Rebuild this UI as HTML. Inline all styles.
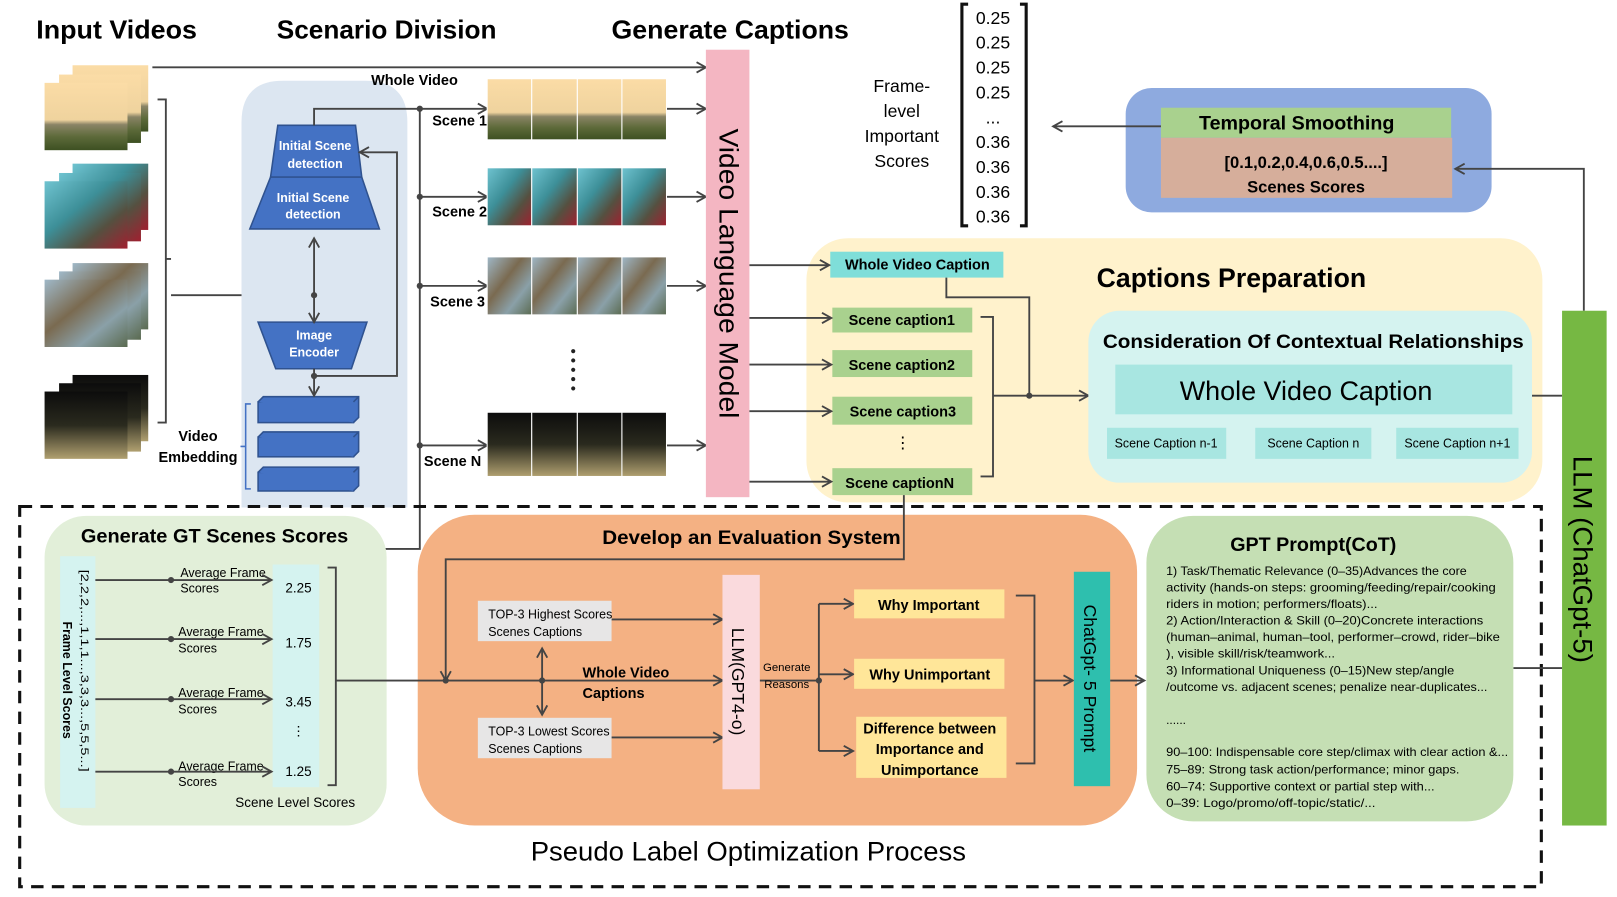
<!DOCTYPE html>
<html><head><meta charset="utf-8"><style>html,body{margin:0;padding:0;background:#fff}svg{display:block}text{font-family:"Liberation Sans",sans-serif}</style></head><body>
<svg width="1617" height="897" viewBox="0 0 1560 866" preserveAspectRatio="none" xmlns="http://www.w3.org/2000/svg">
<defs>
<marker id="a" markerWidth="12" markerHeight="12" refX="10" refY="6" orient="auto" markerUnits="userSpaceOnUse"><path d="M1,1 L10,6 L1,11" fill="none" stroke="#444" stroke-width="1.8"/></marker>
<linearGradient id="g1" x1="0" y1="0" x2="0" y2="1"><stop offset="0" stop-color="#fbdca6"/><stop offset=".55" stop-color="#efd39e"/><stop offset=".62" stop-color="#8a8466"/><stop offset=".8" stop-color="#5d6a3a"/><stop offset="1" stop-color="#3d5022"/></linearGradient>
<linearGradient id="g2" x1="0" y1="0" x2="1" y2="1"><stop offset="0" stop-color="#6fc3d0"/><stop offset=".4" stop-color="#3d8f98"/><stop offset=".7" stop-color="#555040"/><stop offset="1" stop-color="#a02030"/></linearGradient>
<linearGradient id="g3" x1="0" y1="0" x2="1" y2="1"><stop offset="0" stop-color="#9fb8c8"/><stop offset=".4" stop-color="#7a6a50"/><stop offset=".7" stop-color="#8aa0a8"/><stop offset="1" stop-color="#5a6a50"/></linearGradient>
<linearGradient id="g4" x1="0" y1="0" x2="0" y2="1"><stop offset="0" stop-color="#0c0c0c"/><stop offset=".5" stop-color="#2a2a1e"/><stop offset="1" stop-color="#b0a070"/></linearGradient>
</defs>
<g fill="#000" font-weight="bold">
<text x="35" y="37" font-size="25" textLength="155" lengthAdjust="spacingAndGlyphs">Input Videos</text>
<text x="267" y="37" font-size="25" textLength="212" lengthAdjust="spacingAndGlyphs">Scenario Division</text>
<text x="590" y="37" font-size="25" textLength="229" lengthAdjust="spacingAndGlyphs">Generate Captions</text>
</g>
<g>
<rect x="70" y="63" width="73" height="64" fill="url(#g1)"/><rect x="57" y="72" width="79" height="66" fill="url(#g1)"/><rect x="43" y="80" width="80" height="65" fill="url(#g1)"/>
<rect x="70" y="158" width="73" height="64" fill="url(#g2)"/><rect x="57" y="167" width="79" height="66" fill="url(#g2)"/><rect x="43" y="175" width="80" height="65" fill="url(#g2)"/>
<rect x="70" y="254" width="73" height="64" fill="url(#g3)"/><rect x="57" y="262" width="79" height="66" fill="url(#g3)"/><rect x="43" y="270" width="80" height="65" fill="url(#g3)"/>
<rect x="70" y="362" width="73" height="64" fill="url(#g4)"/><rect x="57" y="370" width="79" height="66" fill="url(#g4)"/><rect x="43" y="378" width="80" height="65" fill="url(#g4)"/>
</g>
<g stroke="#444" stroke-width="1.8" fill="none">
<path d="M152,96 H160 V408 H152 M160,250 H165"/>
<path d="M147,65 H681" marker-end="url(#a)"/>
<path d="M165,285 H303"/>
</g>
<path d="M233,490 V118 Q233,78 273,78 H353 Q393,78 393,118 V490 Z" fill="#dce6f1"/>
<text x="358" y="82" font-size="14" font-weight="bold">Whole Video</text>
<g stroke="#2f528f" stroke-width="1.5" fill="#4472c4">
<path d="M268,121 H343 L349,171 H261 Z"/>
<path d="M261,171 H349 L366,221 H241 Z"/>
<path d="M249,311 H354 L339,356 H266 Z"/>
<rect x="249" y="388" width="92" height="20"/><path d="M249,388 L254,383 H346 V403 L341,408 M341,388 L346,383" />
<rect x="249" y="422" width="92" height="19"/><path d="M249,422 L254,417 H346 V436 L341,441 M341,422 L346,417"/>
<rect x="249" y="456" width="92" height="18"/><path d="M249,456 L254,451 H346 V469 L341,474 M341,456 L346,451"/>
</g>
<g fill="#fff" font-size="12" font-weight="bold" text-anchor="middle">
<text x="304" y="145">Initial Scene</text><text x="304" y="162">detection</text>
<text x="302" y="195">Initial Scene</text><text x="302" y="211">detection</text>
<text x="303" y="328">Image</text><text x="303" y="344">Encoder</text>
</g>
<g font-size="14" font-weight="bold" text-anchor="middle"><text x="191" y="426">Video</text><text x="191" y="446">Embedding</text></g>
<path d="M242,390 H237 V472 H242 M232,431 H237" stroke="#4472c4" stroke-width="1.5" fill="none"/>
<g stroke="#444" stroke-width="1.8" fill="none">
<path d="M303,121 V105 H470" marker-end="url(#a)"/>
<path d="M303,285 V230" marker-end="url(#a)"/>
<path d="M303,285 V311" marker-end="url(#a)"/>
<path d="M303,356 V382" marker-end="url(#a)"/>
<path d="M303,363 H383 V147 H347" marker-end="url(#a)"/>
<path d="M405,105 V530 H165 V745"/>
<path d="M405,190 H470" marker-end="url(#a)"/>
<path d="M405,276 H470" marker-end="url(#a)"/>
<path d="M405,430 H470" marker-end="url(#a)"/>
<path d="M643,105 H681" marker-end="url(#a)"/><path d="M643,190 H681" marker-end="url(#a)"/><path d="M643,276 H681" marker-end="url(#a)"/><path d="M643,430 H681" marker-end="url(#a)"/>
</g>
<g fill="#444"><circle cx="405" cy="105" r="3"/><circle cx="405" cy="190" r="3"/><circle cx="405" cy="276" r="3"/><circle cx="405" cy="430" r="3"/><circle cx="303" cy="285" r="3"/><circle cx="303" cy="363" r="3"/></g>
<g font-size="14" font-weight="bold"><text x="417" y="121">Scene 1</text><text x="417" y="209">Scene 2</text><text x="415" y="296">Scene 3</text><text x="409" y="450">Scene N</text></g>
<g stroke="#fff" stroke-width="1">
<rect x="470" y="76" width="43" height="59" fill="url(#g1)"/><rect x="513" y="76" width="44" height="59" fill="url(#g1)"/><rect x="557" y="76" width="43" height="59" fill="url(#g1)"/><rect x="600" y="76" width="43" height="59" fill="url(#g1)"/>
<rect x="470" y="162" width="43" height="56" fill="url(#g2)"/><rect x="513" y="162" width="44" height="56" fill="url(#g2)"/><rect x="557" y="162" width="43" height="56" fill="url(#g2)"/><rect x="600" y="162" width="43" height="56" fill="url(#g2)"/>
<rect x="470" y="248" width="43" height="56" fill="url(#g3)"/><rect x="513" y="248" width="44" height="56" fill="url(#g3)"/><rect x="557" y="248" width="43" height="56" fill="url(#g3)"/><rect x="600" y="248" width="43" height="56" fill="url(#g3)"/>
<rect x="470" y="398" width="43" height="62" fill="url(#g4)"/><rect x="513" y="398" width="44" height="62" fill="url(#g4)"/><rect x="557" y="398" width="43" height="62" fill="url(#g4)"/><rect x="600" y="398" width="43" height="62" fill="url(#g4)"/>
</g>
<g fill="#222"><circle cx="553" cy="339" r="2"/><circle cx="553" cy="348" r="2"/><circle cx="553" cy="357" r="2"/><circle cx="553" cy="366" r="2"/><circle cx="553" cy="375" r="2"/></g>
<rect x="681" y="48" width="42" height="432" fill="#f4b6c2"/>
<text transform="translate(694,264) rotate(90)" font-size="26" text-anchor="middle" textLength="280" lengthAdjust="spacingAndGlyphs">Video Language Model</text>
<g font-size="17" text-anchor="middle"><text x="870" y="89">Frame-</text><text x="870" y="113">level</text><text x="870" y="137">Important</text><text x="870" y="161">Scores</text></g>
<path d="M934,4 H928 V218 H934 M984,4 H990 V218 H984" stroke="#111" stroke-width="3" fill="none"/>
<g font-size="17" text-anchor="middle"><text x="958" y="23">0.25</text><text x="958" y="47">0.25</text><text x="958" y="71">0.25</text><text x="958" y="95">0.25</text><text x="958" y="119">...</text><text x="958" y="143">0.36</text><text x="958" y="167">0.36</text><text x="958" y="191">0.36</text><text x="958" y="215">0.36</text></g>
<rect x="1086" y="85" width="353" height="120" rx="25" fill="#8eaadf"/>
<rect x="1120" y="104" width="280" height="29" fill="#a9d18e"/>
<rect x="1120" y="133" width="281" height="58" fill="#d6ae9b"/>
<text x="1251" y="125" font-size="19" font-weight="bold" text-anchor="middle">Temporal Smoothing</text>
<text x="1260" y="162" font-size="16" font-weight="bold" text-anchor="middle">[0.1,0.2,0.4,0.6,0.5....]</text>
<text x="1260" y="186" font-size="16" font-weight="bold" text-anchor="middle">Scenes Scores</text>
<g stroke="#444" stroke-width="1.8" fill="none">
<path d="M1120,122 H1016" marker-end="url(#a)"/>
<path d="M1528,300 V163 H1404" marker-end="url(#a)"/>
</g>
<rect x="778" y="230" width="710" height="255" rx="40" fill="#fff2cc"/>
<rect x="801" y="243" width="167" height="25" fill="#7fded9"/>
<text x="885" y="260" font-size="14" font-weight="bold" text-anchor="middle">Whole Video Caption</text>
<g fill="#a9d18e"><rect x="803" y="297" width="135" height="24"/><rect x="803" y="338" width="135" height="26"/><rect x="803" y="383" width="135" height="27"/><rect x="803" y="452" width="135" height="26"/></g>
<g font-size="14" font-weight="bold" text-anchor="middle"><text x="870" y="314">Scene caption1</text><text x="870" y="357">Scene caption2</text><text x="871" y="402">Scene caption3</text><text x="868" y="471">Scene captionN</text></g>
<text x="871" y="433" font-size="16" text-anchor="middle">⋮</text>
<g stroke="#444" stroke-width="1.8" fill="none">
<path d="M723,256 H800" marker-end="url(#a)"/><path d="M723,307 H802" marker-end="url(#a)"/><path d="M723,352 H802" marker-end="url(#a)"/><path d="M723,397 H802" marker-end="url(#a)"/><path d="M723,465 H802" marker-end="url(#a)"/>
<path d="M946,306 H958 V460 H946 M958,382 H1050" marker-end="url(#a)"/>
<path d="M913,268 V287 H993 V382"/>
<path d="M1478,382 H1507"/>
</g>
<circle cx="993" cy="382" r="3" fill="#444"/>
<text x="1058" y="277" font-size="26" font-weight="bold" textLength="260" lengthAdjust="spacingAndGlyphs">Captions Preparation</text>
<rect x="1050" y="300" width="428" height="166" rx="30" fill="#d5f3f0"/>
<text x="1064" y="336" font-size="19" font-weight="bold" textLength="406" lengthAdjust="spacingAndGlyphs">Consideration Of Contextual Relationships</text>
<rect x="1076" y="352" width="383" height="48" fill="#a8e6e1"/>
<text x="1260" y="386" font-size="26" text-anchor="middle">Whole Video Caption</text>
<g fill="#a8e6e1"><rect x="1068" y="413" width="115" height="30"/><rect x="1211" y="413" width="112" height="30"/><rect x="1347" y="413" width="118" height="30"/></g>
<g font-size="12" text-anchor="middle"><text x="1125" y="432">Scene Caption n-1</text><text x="1267" y="432">Scene Caption n</text><text x="1406" y="432">Scene Caption n+1</text></g>
<rect x="1507" y="300" width="43" height="497" fill="#76b843"/>
<text transform="translate(1518,540) rotate(90)" font-size="26" text-anchor="middle" textLength="200" lengthAdjust="spacingAndGlyphs">LLM (ChatGpt-5)</text>
<rect x="19" y="489" width="1468" height="367" fill="none" stroke="#111" stroke-width="3" stroke-dasharray="12,8"/>
<text x="512" y="831" font-size="26" textLength="420" lengthAdjust="spacingAndGlyphs">Pseudo Label Optimization Process</text>
<rect x="43" y="498" width="330" height="299" rx="40" fill="#e2efd9"/>
<text x="78" y="524" font-size="19" font-weight="bold" textLength="258" lengthAdjust="spacingAndGlyphs">Generate GT Scenes Scores</text>
<rect x="58" y="537" width="34" height="243" fill="#d5f3f0"/>
<text transform="translate(78,550) rotate(90)" font-size="11" textLength="195" lengthAdjust="spacingAndGlyphs">[2,2,2,...,1,1,1...,3,3,3...,5,5,5...]</text>
<text transform="translate(61,600) rotate(90)" font-size="12" font-weight="bold">Frame Level Scores</text>
<rect x="263" y="545" width="45" height="215" fill="#d5f3f0"/>
<g font-size="13" text-anchor="middle"><text x="288" y="572">2.25</text><text x="288" y="625">1.75</text><text x="288" y="682">3.45</text><text x="288" y="710">⋮</text><text x="288" y="749">1.25</text></g>
<g font-size="12"><text x="174" y="557">Average Frame</text><text x="174" y="572">Scores</text><text x="172" y="614">Average  Frame</text><text x="172" y="630">Scores</text><text x="172" y="673">Average  Frame</text><text x="172" y="689">Scores</text><text x="172" y="744">Average Frame</text><text x="172" y="759">Scores</text></g>
<text x="227" y="779" font-size="13">Scene Level Scores</text>
<g stroke="#444" stroke-width="1.8" fill="none">
<path d="M92,560 H262" marker-end="url(#a)"/><path d="M92,617 H262" marker-end="url(#a)"/><path d="M92,675 H262" marker-end="url(#a)"/><path d="M92,745 H262" marker-end="url(#a)"/>
<path d="M316,548 H324 V758 H316"/>
</g>
<g fill="#444"><circle cx="165" cy="560" r="3"/><circle cx="165" cy="617" r="3"/><circle cx="165" cy="675" r="3"/><circle cx="165" cy="745" r="3"/></g>
<rect x="403" y="497" width="694" height="300" rx="55" fill="#f4b183"/>
<text x="725" y="525" font-size="19" font-weight="bold" text-anchor="middle" textLength="288" lengthAdjust="spacingAndGlyphs">Develop an Evaluation System</text>
<g stroke="#444" stroke-width="1.8" fill="none">
<path d="M872,478 V540 H430 V657" marker-end="url(#a)"/>
<path d="M324,657 H697" marker-end="url(#a)"/>
<path d="M590,598 H697" marker-end="url(#a)"/>
<path d="M590,712 H697" marker-end="url(#a)"/>
<path d="M523,657 V626" marker-end="url(#a)"/><path d="M523,657 V690" marker-end="url(#a)"/>
<path d="M733,657 H790 M790,583 V725 M790,583 H823" marker-end="url(#a)"/>
<path d="M790,651 H823" marker-end="url(#a)"/><path d="M790,725 H823" marker-end="url(#a)"/>
<path d="M980,575 H998 V737 H980 M998,657 H1035" marker-end="url(#a)"/>
<path d="M1071,657 H1104" marker-end="url(#a)"/>
<path d="M1460,645 H1507"/>
</g>
<g fill="#444"><circle cx="430" cy="657" r="3"/><circle cx="523" cy="657" r="3"/><circle cx="790" cy="657" r="3"/></g>
<g fill="#e7e6e6"><rect x="461" y="580" width="129" height="39"/><rect x="461" y="693" width="129" height="39"/></g>
<g font-size="12"><text x="471" y="597">TOP-3 Highest Scores</text><text x="471" y="614">Scenes Captions</text><text x="471" y="710">TOP-3 Lowest Scores</text><text x="471" y="727">Scenes Captions</text></g>
<g font-size="14" font-weight="bold"><text x="562" y="654">Whole Video</text><text x="562" y="674">Captions</text></g>
<rect x="697" y="555" width="36" height="207" fill="#fadadd"/>
<text transform="translate(706,658) rotate(90)" font-size="17" text-anchor="middle">LLM(GPT4-o)</text>
<g font-size="11" text-anchor="middle"><text x="759" y="648">Generate</text><text x="759" y="664">Reasons</text></g>
<g fill="#ffe699"><rect x="824" y="569" width="145" height="28"/><rect x="824" y="636" width="145" height="29"/><rect x="826" y="692" width="145" height="59"/></g>
<g font-size="14" font-weight="bold" text-anchor="middle"><text x="896" y="589">Why Important</text><text x="897" y="656">Why Unimportant</text><text x="897" y="708">Difference between</text><text x="897" y="728">Importance and</text><text x="897" y="748">Unimportance</text></g>
<rect x="1036" y="552" width="35" height="207" fill="#2ebfae"/>
<text transform="translate(1046,655) rotate(90)" font-size="17" text-anchor="middle">ChatGpt- 5 Prompt</text>
<rect x="1106" y="498" width="354" height="295" rx="45" fill="#c5dfb4"/>
<text x="1267" y="532" font-size="19" font-weight="bold" text-anchor="middle">GPT Prompt(CoT)</text>
<g font-size="11.5">
<text x="1125" y="555" textLength="290" lengthAdjust="spacingAndGlyphs">1) Task/Thematic Relevance (0–35)Advances the core</text>
<text x="1125" y="571" textLength="318" lengthAdjust="spacingAndGlyphs">activity (hands-on steps: grooming/feeding/repair/cooking</text>
<text x="1125" y="587" textLength="204" lengthAdjust="spacingAndGlyphs">riders in motion; performers/floats)...</text>
<text x="1125" y="603" textLength="306" lengthAdjust="spacingAndGlyphs">2) Action/Interaction &amp; Skill (0–20)Concrete interactions</text>
<text x="1125" y="619" textLength="322" lengthAdjust="spacingAndGlyphs">(human–animal, human–tool, performer–crowd, rider–bike</text>
<text x="1125" y="635" textLength="163" lengthAdjust="spacingAndGlyphs">), visible skill/risk/teamwork...</text>
<text x="1125" y="651" textLength="278" lengthAdjust="spacingAndGlyphs">3) Informational Uniqueness (0–15)New step/angle</text>
<text x="1125" y="667" textLength="310" lengthAdjust="spacingAndGlyphs">/outcome vs. adjacent scenes; penalize near-duplicates...</text>
<text x="1125" y="699">......</text>
<text x="1125" y="730" textLength="330" lengthAdjust="spacingAndGlyphs">90–100: Indispensable core step/climax with clear action &amp;...</text>
<text x="1125" y="747" textLength="283" lengthAdjust="spacingAndGlyphs">75–89: Strong task action/performance; minor gaps.</text>
<text x="1125" y="763" textLength="259" lengthAdjust="spacingAndGlyphs">60–74: Supportive context or partial step with...</text>
<text x="1125" y="779" textLength="202" lengthAdjust="spacingAndGlyphs">0–39: Logo/promo/off-topic/static/...</text>
</g>
</svg>
</body></html>
